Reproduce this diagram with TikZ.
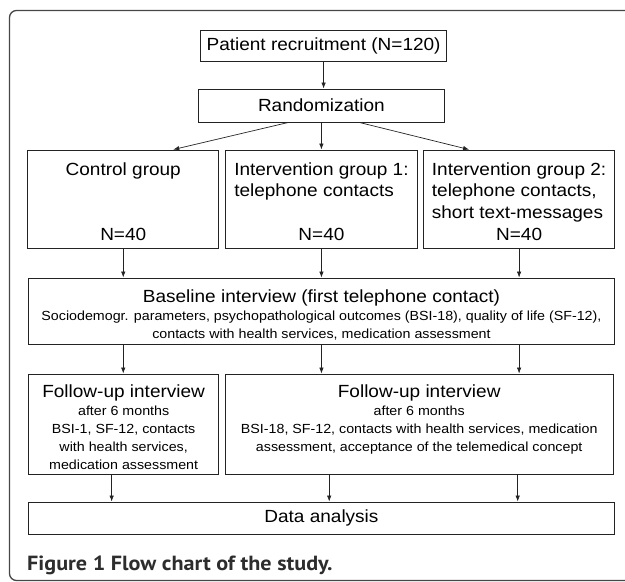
\documentclass[tikz,border=0pt]{standalone}
\usepackage{fontspec}
\setmainfont{Liberation Sans}[FakeStretch=1.08]
\newfontfamily\capfont{PT Sans}[FakeStretch=1.08]
\usetikzlibrary{arrows.meta, positioning, calc}
\definecolor{framegray}{RGB}{70, 70, 70}
\definecolor{boxline}{RGB}{35, 35, 35}
\definecolor{capgray}{RGB}{45, 45, 45}
\newcommand{\bigtxt}{\fontsize{17.6}{21.6}\selectfont}
\newcommand{\smtxt}{\fontsize{13.2}{18}\selectfont}

\begin{document}
\begin{tikzpicture}[x=1pt, y=-1pt,
    box/.style={draw=boxline, line width=0.9pt, inner sep=0pt, font=\bigtxt},
    infobox/.style={box, align=center, font=\smtxt},
    arr/.style={-{Latex[length=6pt, width=4.5pt]}, line width=0.7pt, boxline}]
  \useasboundingbox (0,0) rectangle (625,582);

  % frame round the figure
  \draw[framegray, line width=1.3pt, rounded corners=7pt] (9.5,10.5) rectangle (700,580.5);

  % top: recruitment and randomization
  \node[box, minimum width=245.7pt, minimum height=31pt] (recruit) at (323.6,45.5) {Patient recruitment (N=120)};
  \node[box, minimum width=245.2pt, minimum height=33pt] (random) at (321.4,105.5) {Randomization};

  % the three groups
  \node[box, minimum width=190.9pt, minimum height=98pt] (ctrl) at (123.25,199)
    {\begin{tabular}{@{}c@{}}\rule{0pt}{24pt}Control group\\~\\~\\N=40\end{tabular}};
  \node[box, minimum width=192.1pt, minimum height=98pt] (ig1) at (321.45,199)
    {\begin{tabular}{@{}l@{}}\rule{0pt}{24pt}Intervention group 1:\\telephone contacts\\~\\\multicolumn{1}{@{}c@{}}{N=40}\end{tabular}};
  \node[box, minimum width=190.4pt, minimum height=98pt] (ig2) at (519.1,199)
    {\begin{tabular}{@{}l@{}}\rule{0pt}{24pt}Intervention group 2:\\telephone contacts,\\short text-messages\\\multicolumn{1}{@{}c@{}}{N=40}\end{tabular}};

  % baseline interview
  \node[infobox, minimum width=585.7pt, minimum height=66pt] (base) at (321.45,311)
    {{\rule{0pt}{20pt}\bigtxt Baseline interview (first telephone contact)}\\
     Sociodemogr. parameters, psychopathological outcomes (BSI-18), quality of life (SF-12),\\
     contacts with health services, medication assessment};

  % follow-up interviews
  \node[infobox, minimum width=190.1pt, minimum height=100pt] (fu1) at (123.65,424)
    {{\rule{0pt}{19pt}\bigtxt Follow-up interview}\\after 6 months\\BSI-1, SF-12, contacts\\with health services,\\medication assessment};
  \node[infobox, minimum width=387.6pt, minimum height=100pt] (fu2) at (419.2,424)
    {{\rule{0pt}{19pt}\bigtxt Follow-up interview}\\after 6 months\\BSI-18, SF-12, contacts with health services, medication\\assessment, acceptance of the telemedical concept\\~};

  % data analysis
  \node[box, minimum width=585.7pt, minimum height=32pt] (data) at (321.45,518) {Data analysis};

  % caption
  \node[anchor=base west, inner sep=0pt, text=capgray, font=\capfont\bfseries\fontsize{20.5}{24}\selectfont] (caption) at (27,570)
    {Figure 1 Flow chart of the study.};

  % arrows
  \draw[arr] (recruit.south) -- (recruit.south |- random.north);
  \draw[arr] ([xshift=-33pt]random.south) -- ([xshift=50pt]ctrl.north);
  \draw[arr] (random.south) -- (random.south |- ig1.north);
  \draw[arr] ([xshift=38pt]random.south) -- ([xshift=-50pt]ig2.north);

  \draw[arr] (ctrl.south) -- (ctrl.south |- base.north);
  \draw[arr] (ig1.south) -- (ig1.south |- base.north);
  \draw[arr] (ig2.south) -- (ig2.south |- base.north);

  \draw[arr] (base.south -| ctrl) -- (fu1.north -| ctrl);
  \draw[arr] (base.south -| ig1) -- (fu2.north -| ig1);
  \draw[arr] (base.south -| ig2) -- (fu2.north -| ig2);

  \coordinate (f1) at ($(fu1.south)+(-12,0)$);
  \coordinate (f2) at ($(fu2.south)+(-90,0)$);
  \coordinate (f3) at ($(fu2.south)+(98.5,0)$);
  \draw[arr] (f1) -- (f1 |- data.north);
  \draw[arr] (f2) -- (f2 |- data.north);
  \draw[arr] (f3) -- (f3 |- data.north);
\end{tikzpicture}
\end{document}
